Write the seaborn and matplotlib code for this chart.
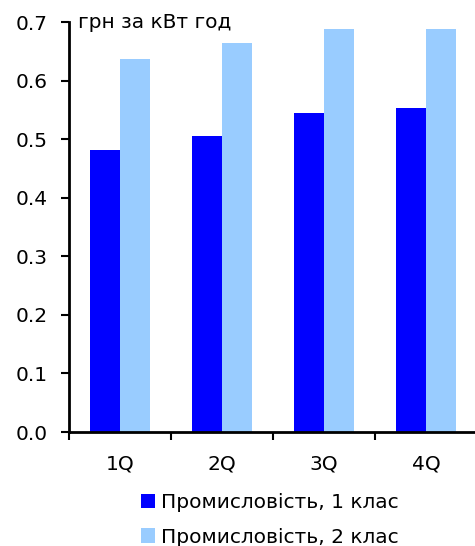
import matplotlib
matplotlib.use("Agg")
import matplotlib.pyplot as plt
import seaborn as sns
import pandas as pd
from matplotlib.patches import Patch

quarters = ["1Q", "2Q", "3Q", "4Q"]
class1 = [0.482, 0.505, 0.544, 0.554]
class2 = [0.636, 0.664, 0.688, 0.688]
series_names = ["Промисловість, 1 клас", "Промисловість, 2 клас"]
colors = ["#0000FF", "#99CCFF"]
y_ticks = [0.0, 0.1, 0.2, 0.3, 0.4, 0.5, 0.6, 0.7]
unit_label = "грн за кВт год"

df = pd.DataFrame({
    "q": quarters * 2,
    "v": class1 + class2,
    "s": [series_names[0]] * 4 + [series_names[1]] * 4,
})

sns.set_style("white")
plt.rcParams["font.family"] = ["DejaVu Sans"]
plt.rcParams["text.color"] = "black"
plt.rcParams["xtick.color"] = "black"
plt.rcParams["ytick.color"] = "black"

FS = 14.5

fig = plt.figure(figsize=(4.75, 5.46), dpi=100)
ax = fig.add_axes([69 / 475, 1 - 432 / 546, 408 / 475, 410 / 546])

sns.barplot(data=df, x="q", y="v", hue="s", palette=colors, width=0.59,
            gap=0, ax=ax, legend=False, saturation=1, edgecolor="none")

ax.set_ylim(0, 0.7)
ax.set_xlim(-0.5, 3.5)
ax.set_yticks(y_ticks)
ax.set_yticklabels([f"{t:.1f}" for t in y_ticks])
ax.set_xlabel("")
ax.set_ylabel("")

for s in ["top", "right"]:
    ax.spines[s].set_visible(False)
for s in ["left", "bottom"]:
    ax.spines[s].set_color("black")
    ax.spines[s].set_linewidth(2)

ax.tick_params(axis="y", direction="out", length=6, width=1.5, color="black",
               labelsize=FS, pad=9.5, left=True, labelcolor="black")
ax.tick_params(axis="x", which="major", length=0, labelsize=FS, pad=16,
               labelcolor="black")
ax.set_xticks([-0.5, 0.5, 1.5, 2.5, 3.5], minor=True)
ax.tick_params(axis="x", which="minor", direction="out", length=6, width=1.5,
               color="black", bottom=True)

fig.text(78 / 475, 1 - 23 / 546, unit_label, fontsize=FS, va="center",
         ha="left", color="black")

handles = [Patch(facecolor=c, edgecolor="none") for c in colors]
fig.legend(handles, series_names, loc="center",
           bbox_to_anchor=(270 / 475, 1 - 520 / 546), frameon=False,
           fontsize=FS, handlelength=0.7, handleheight=0.7,
           handletextpad=0.3, labelspacing=0.75, borderpad=0,
           labelcolor="black")

fig.savefig("out.png", dpi=100)
